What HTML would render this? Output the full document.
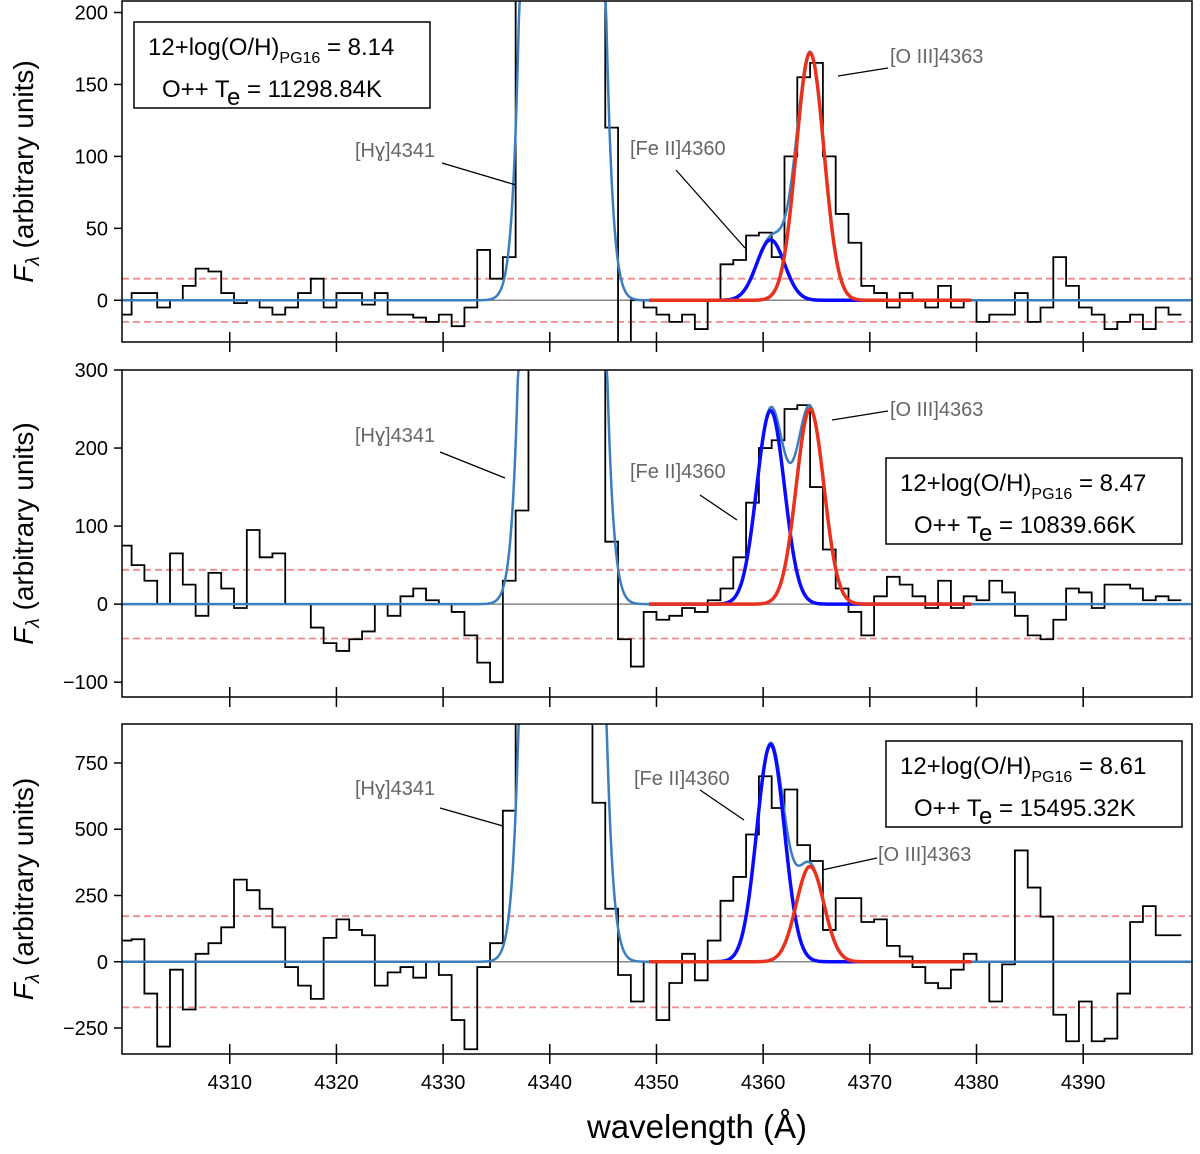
<!DOCTYPE html>
<html><head><meta charset="utf-8"><style>
body{margin:0;background:#fff;}
svg text{font-family:"Liberation Sans",sans-serif;}
</style></head><body>
<svg id="fig" width="1200" height="1149" viewBox="0 0 1200 1149" xmlns="http://www.w3.org/2000/svg"></svg>
<script>
// ---- data ----
const binStart = 4300.2;
const binStep = 1.2;
const flux1 = [-10,5,5,-5,0,10,22,20,5,-2, 0,-5,-10,-5,5,15,-5,5,5,-3, 5,-10,-10,-12,-15,-10,-18,-5,35,15, 30,250,999,999,999,999,999,300,120,-30, 0,-5,-10,-15,-10,-20,0,25,28,45, 47,30,100,155,165,100,60,40,10,5, -5,5,0,-5,10,-5,0,-15,-10,-10, 5,-15,-5,30,10,-5,-10,-20,-15,-10, -20,-5,-10];
const flux2 = [75,50,30,0,65,25,-15,40,20,-5, 95,60,65,0,0,-30,-50,-60,-45,-35, 0,-15,10,20,5,0,-10,-40,-75,-100, 30,120,999,999,999,999,999,400,80,-45, -80,-10,-20,-15,-5,-10,5,20,60,130, 200,210,250,255,150,70,20,-10,-40,10, 35,25,10,-5,30,-5,10,5,30,15, -15,-40,-45,-20,20,15,-5,25,25,20, 5,10,5];
const flux3 = [80,85,-120,-320,-30,-180,30,70,130,310, 270,200,130,-20,-90,-140,90,160,120,100, -90,-40,-20,-60,0,-50,-220,-330,-20,70, 570,999,999,999,999,999,999,600,200,-50, -150,0,-220,-80,30,-70,80,230,320,480, 700,580,650,440,380,120,240,240,150,160, 60,20,-20,-80,-100,-30,30,0,-150,-10, 420,280,170,-200,-300,-150,-300,-290,-120,150, 210,100,100];
const hgAmp = [5200, 9000, 25000];
const feAmp = [42, 248, 820];
const o3Amp = [172, 250, 360];
const noise = [15, 44, 172];
const yTicks1 = [0,50,100,150,200];
const yTicks2 = [-100,0,100,200,300];
const yTicks3 = [-250,0,250,500,750];
const xTicks = [4310,4320,4330,4340,4350,4360,4370,4380,4390];
const metal = ["8.14","8.47","8.61"];
const temps = ["11298.84","10839.66","15495.32"];

const NS="http://www.w3.org/2000/svg";
const svg=document.getElementById('fig');
function el(tag,attrs,parent){const e=document.createElementNS(NS,tag);for(const k in attrs)e.setAttribute(k,attrs[k]);(parent||svg).appendChild(e);return e;}
const X0=122,X1=1192,WMIN=4299.9,WMAX=4400.2;
const xs=w=>X0+(w-WMIN)/(WMAX-WMIN)*(X1-X0);
const panels=[
 {top:1,bot:342,ymin:-29,ymax:208,flux:flux1,ticks:yTicks1},
 {top:370,bot:697,ymin:-119,ymax:300,flux:flux2,ticks:yTicks2},
 {top:724,bot:1054,ymin:-348,ymax:897,flux:flux3,ticks:yTicks3}];
const g=(x,a,c,s)=>a*Math.exp(-(x-c)*(x-c)/(2*s*s));
panels.forEach((p,k)=>{
 const ys=v=>p.bot-(v-p.ymin)/(p.ymax-p.ymin)*(p.bot-p.top);
 const grp=el('g',{});
 
 
 const cp=el('clipPath',{id:'c'+k},grp);el('rect',{x:X0,y:p.top,width:X1-X0,height:p.bot-p.top},cp);
 const inner=el('g',{'clip-path':'url(#c'+k+')'},grp);
 [noise[k],-noise[k]].forEach(v=>{const l=el('line',{x1:X0,x2:X1,y1:ys(v),y2:ys(v),stroke:'#f08c8c','stroke-width':1.8,'stroke-dasharray':'7,4'},inner);
  });
 const z=el('line',{x1:X0,x2:X1,y1:ys(0),y2:ys(0),stroke:'#888','stroke-width':1.5},inner);
 
 let d='';
 p.flux.forEach((v,i)=>{const c=binStart+binStep*i;const xa=xs(c-binStep/2),xb=xs(c+binStep/2);const y=ys(v);d+=(i==0?'M':'L')+xa+','+y+'L'+xb+','+y;});
 const st=el('path',{d:d,fill:'none',stroke:'#000','stroke-width':1.8},inner);
 
 let dm='';
 for(let w=WMIN;w<=WMAX;w+=0.1){const v=g(w,hgAmp[k],4341.2,1.6)+g(w,feAmp[k],4360.7,1.3)+g(w,o3Amp[k],4364.4,1.3);dm+=(dm?'L':'M')+xs(w)+','+Math.max(ys(v),p.top-5);}
 const m=el('path',{d:dm,fill:'none',stroke:'#3a7ebf','stroke-width':2.5},inner);
 
 [[feAmp[k],4360.7,'#0a0aff','feii-component'],[o3Amp[k],4364.4,'#e8321e','oiii-component']].forEach(([a,c,col,nm])=>{
  let dc='';for(let w=4349.3;w<=4379.6;w+=0.1){dc+=(dc?'L':'M')+xs(w)+','+ys(g(w,a,c,1.3));}
  const cc=el('path',{d:dc,fill:'none',stroke:col,'stroke-width':3.5},inner);
  });
 const fr=el('rect',{x:X0,y:p.top,width:X1-X0,height:p.bot-p.top,fill:'none',stroke:'#000','stroke-width':1.5},grp);
 
 p.ticks.forEach(t=>{const y=ys(t);el('line',{x1:X0-8,x2:X0,y1:y,y2:y,stroke:'#000','stroke-width':1.5},grp);
  const tx=el('text',{x:X0-14,y:y+7,'font-size':20,'text-anchor':'end'},grp);tx.textContent=t<0?'\u2212'+(-t):t;
  });
 xTicks.forEach(t=>{const x=xs(t);el('line',{x1:x,x2:x,y1:p.bot-10,y2:p.bot+10,stroke:'#000','stroke-width':1.5},grp);
  if(k==2){const tx=el('text',{x:x,y:1089,'font-size':20,'text-anchor':'middle'},grp);tx.textContent=t;
  }});
 const cy=(p.top+p.bot)/2;
 const yt=el('text',{x:0,y:0,'font-size':28,'text-anchor':'middle',transform:'translate(33,'+cy+') rotate(-90)'},grp);
 yt.innerHTML='<tspan font-style="italic">F</tspan><tspan font-size="19" font-style="italic" dy="6">λ</tspan><tspan dy="-6">  (arbitrary units)</tspan>';
 
});
const ann=[
 ['[Hɣ]4341',355,157,442,163,516,185],['[Fe II]4360',630,155,676,170,745,248],['[O III]4363',890,63,888,68,838,76],
 ['[Hɣ]4341',355,442,440,452,505,478],['[Fe II]4360',630,478,700,495,737,520],['[O III]4363',890,416,888,411,832,420],
 ['[Hɣ]4341',355,795,440,808,503,826],['[Fe II]4360',634,785,700,790,744,820],['[O III]4363',878,861,877,858,822,870]];
ann.forEach(a=>{const t=el('text',{x:a[1],y:a[2],'font-size':20,fill:'#666'});t.textContent=a[0];
 
 el('line',{x1:a[3],y1:a[4],x2:a[5],y2:a[6],stroke:'#000','stroke-width':1.3});});
[[134,22],[886,458],[886,741]].forEach((b,k)=>{
 const r=el('rect',{x:b[0],y:b[1],width:296,height:86,fill:'#fff',stroke:'#000','stroke-width':1.5});
 
 const t1=el('text',{x:b[0]+14,y:b[1]+33,'font-size':24});
 t1.innerHTML='12+log(O/H)<tspan font-size="16" dy="8">PG16</tspan><tspan dy="-8"> = '+metal[k]+'</tspan>';
 
 const t2=el('text',{x:b[0]+28,y:b[1]+75,'font-size':24});
 t2.innerHTML='O++ T<tspan dy="8">e</tspan><tspan dy="-8"> = '+temps[k]+'K</tspan>';
 
});
const xl=el('text',{x:697,y:1138,'font-size':33,'text-anchor':'middle'});
xl.textContent='wavelength (Å)';

</script>
</body></html>
